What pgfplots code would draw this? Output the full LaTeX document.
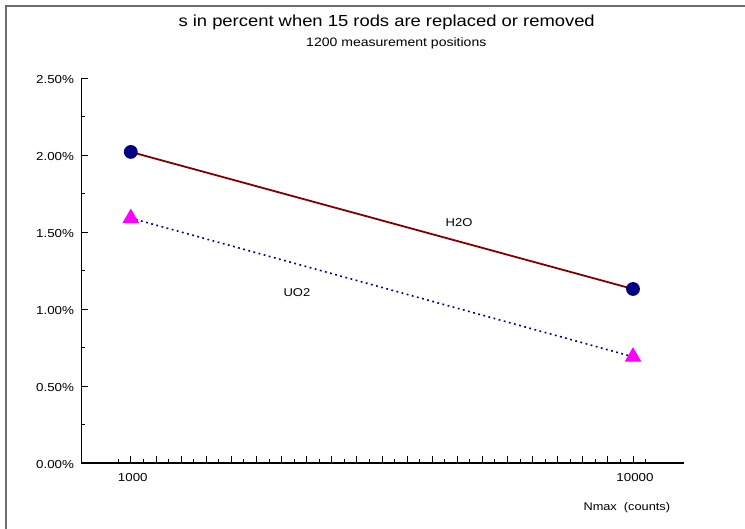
\documentclass[border=0pt]{standalone}
\usepackage{fontspec}
\setmainfont{Liberation Sans}[FakeStretch=1.15]
\usepackage{pgfplots}
\pgfplotsset{compat=1.18}
\usetikzlibrary{calc}

\definecolor{h2oline}{HTML}{800000}
\definecolor{navymark}{HTML}{000080}
\definecolor{uomark}{HTML}{FF00FF}
\definecolor{framegray}{HTML}{6E6E6E}

\begin{document}
\begin{tikzpicture}
\begin{axis}[
  scale only axis,
  width=602.5pt, height=385pt,
  xmin=116.5, xmax=10914, ymin=0, ymax=2.5,
  clip=false,
  axis x line*=bottom, axis y line*=left,
  axis line style={line width=1.3pt, black},
  tick align=inside,
  scaled x ticks=false,
  xtick={1000,10000}, xticklabels={1000,10000},
  extra x ticks={1450,1900,...,9550}, extra x tick labels={},
  minor xtick={775,1225,...,10225},
  ytick={0,0.5,...,2.5}, minor ytick={0.25,0.75,...,2.25},
  major tick length=7pt, minor tick length=4pt,
  every tick/.style={black, line width=0.8pt},
  /pgf/number format/assume math mode=true,
  ticklabel style={font=\fontsize{11.6}{13}\selectfont},
  xticklabel style={yshift=-7pt, xshift=2pt},
  yticklabel style={xshift=-4pt, yshift=-2pt},
  yticklabel={\pgfmathprintnumber[fixed,fixed zerofill,precision=2]{\tick}\%},
]
% water-filled positions
\addplot[h2oline, line width=1.8pt, mark=*, mark size=6pt,
  mark options={navymark, fill=navymark, solid}]
  coordinates {(1000,2.02) (10000,1.13)};
% fuel-filled positions
\addplot[navymark, line width=1.6pt, line cap=butt, dash pattern=on 1.8pt off 3.5pt,
  mark=triangle*, mark size=8pt,
  mark options={uomark, fill=uomark, solid}]
  coordinates {(1000,1.59) (10000,0.69)};

\node[font=\fontsize{11.3}{13}\selectfont] at (axis cs:6882,1.558) {H2O};
\node[font=\fontsize{11.3}{13}\selectfont] at (axis cs:3978,1.104) {UO2};
\coordinate (O) at (rel axis cs:0,0);
\end{axis}

% page extent and frame
\useasboundingbox ($(O)+(-81.5pt,-65pt)$) rectangle ($(O)+(663.5pt,463pt)$);
\draw[framegray, line width=2pt] ($(O)+(-75.8pt,-66pt)$) -- ($(O)+(-75.8pt,457.3pt)$) -- ($(O)+(664pt,457.3pt)$);

% titles and axis caption
\node[anchor=west, font=\fontsize{16}{19}\selectfont] at ($(O)+(93.5pt,441pt)$) {s in percent when 15 rods are replaced or removed};
\node[anchor=west, font=\fontsize{12.2}{14}\selectfont] at ($(O)+(221.2pt,420pt)$) {1200 measurement positions};
\node[anchor=west, font=\fontsize{11.1}{13}\selectfont] at ($(O)+(498.5pt,-45pt)$) {Nmax~ (counts)};
\end{tikzpicture}
\end{document}
